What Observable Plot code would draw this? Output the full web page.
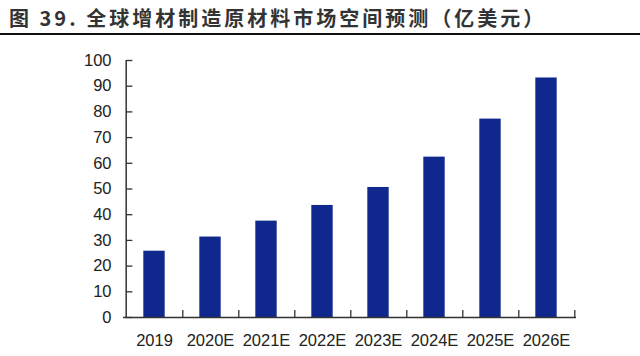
<!DOCTYPE html>
<html>
<head>
<meta charset="utf-8">
<script src="https://cdn.jsdelivr.net/npm/d3@7"></script>
<script src="https://cdn.jsdelivr.net/npm/@observablehq/plot@0.6"></script>
<style>
  html, body { margin: 0; padding: 0; background: #fff; }
  #wrap { width: 640px; height: 356px; overflow: hidden; position: relative; }
  #title {
    font-family: "Noto Sans CJK SC", sans-serif;
    font-weight: bold;
    font-size: 20px;
    letter-spacing: 3px;
    color: #333;
    height: 35px;
    line-height: 36px;
    padding-left: 9px;
    border-bottom: 2px solid #111;
    box-sizing: border-box;
    white-space: nowrap;
  }
  #chart svg text { font-size: 16.5px; font-family: "Liberation Sans", Arial, sans-serif; fill: #222; }
</style>
</head>
<body>
<div id="wrap">
  <div id="title">图 39. 全球增材制造原材料市场空间预测（亿美元）</div>
  <div id="chart"></div>
</div>
<script>
const categories = ["2019", "2020E", "2021E", "2022E", "2023E", "2024E", "2025E", "2026E"];
const values = [25.8, 31.3, 37.5, 43.6, 50.6, 62.4, 77.2, 93.2];
const yTicks = [0, 10, 20, 30, 40, 50, 60, 70, 80, 90, 100];

const data = categories.map((c, i) => ({ year: c, value: values[i] }));

const W = 640, H = 321;
const mL = 123, mR = 64, mT = 25, mB = 39;
const band = (W - mL - mR) / categories.length;
const barW = 22;
const inset = (band - barW) / 2;
const tickLen = 7;
const kPerUnit = (H - mT - mB) / 100;

const chart = Plot.plot({
  width: W,
  height: H,
  marginLeft: mL,
  marginRight: mR,
  marginTop: mT,
  marginBottom: mB,
  style: { fontFamily: "Liberation Sans, Arial, sans-serif", fontSize: "16.5px", color: "#222", background: "#fff" },
  x: { domain: categories, padding: 0, label: null },
  y: { domain: [0, 100], label: null },
  marks: [
    Plot.barY(data, { x: "year", y: "value", fill: "#10288e", insetLeft: inset, insetRight: inset }),
    // y axis line
    Plot.ruleX([categories[0]], { y1: 0, y2: 100, dx: -band / 2, stroke: "#333", strokeWidth: 1.5 }),
    // x axis line
    Plot.ruleY([0], { stroke: "#333", strokeWidth: 1.5 }),
    // y ticks (inward)
    Plot.tickY(yTicks, { y: d => d, x: () => categories[0], insetLeft: 0, insetRight: band - tickLen, stroke: "#333", strokeWidth: 1.3 }),
    // x ticks at band boundaries (inward)
    Plot.ruleX(categories, { x: d => d, dx: band / 2, y1: 0, y2: tickLen / kPerUnit, stroke: "#333", strokeWidth: 1.3 }),
    Plot.axisY(yTicks, { ticks: yTicks, tickSize: 0, tickPadding: 12, label: null }),
    Plot.axisX({ tickSize: 0, tickPadding: 17, label: null })
  ]
});
document.getElementById("chart").appendChild(chart);
</script>
</body>
</html>
